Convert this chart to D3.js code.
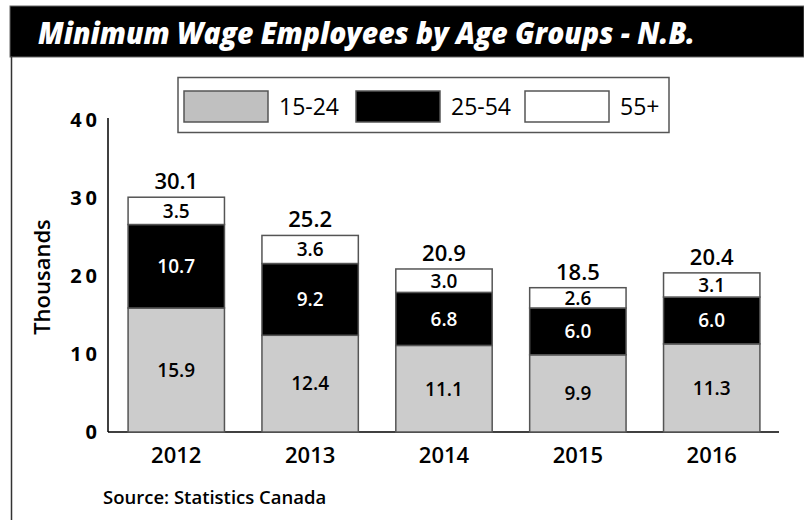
<!DOCTYPE html>
<html>
<head>
<meta charset="utf-8">
<script src="https://cdn.jsdelivr.net/npm/d3@7"></script>
<style>
  body { margin: 0; background: #fff; }
  text { font-family: "Open Sans", sans-serif; }
</style>
</head>
<body>
<div id="chart"></div>
<script>
const years = ["2012", "2013", "2014", "2015", "2016"]
const groups = ["15-24", "25-54", "55+"]
const age1524 = [15.9, 12.4, 11.1, 9.9, 11.3]
const age2554 = [10.7, 9.2, 6.8, 6.0, 6.0]
const age55 = [3.5, 3.6, 3.0, 2.6, 3.1]
const totals = [30.1, 25.2, 20.9, 18.5, 20.4]
const yTicks = [0, 10, 20, 30, 40]

const W = 804, H = 520
const fills = ["#cccccc", "#000000", "#ffffff"]
const labelFills = ["#000", "#fff", "#000"]

const svg = d3.select("#chart").append("svg")
  .attr("width", W).attr("height", H)

// title bar + frame line
svg.append("rect")
  .attr("x", 10).attr("y", 6).attr("width", W - 10).attr("height", 51)
  .attr("fill", "#000").attr("stroke", "#666").attr("stroke-width", 1)
svg.append("line")
  .attr("x1", 11.5).attr("x2", 11.5).attr("y1", 57).attr("y2", H)
  .attr("stroke", "#333").attr("stroke-width", 1.5)
svg.append("text")
  .attr("x", 38).attr("y", 44)
  .attr("fill", "#fff")
  .attr("font-size", 30).attr("font-weight", 800).attr("font-style", "italic")
  .attr("textLength", 657).attr("lengthAdjust", "spacingAndGlyphs")
  .text("Minimum Wage Employees by Age Groups - N.B.")

// data table for stacking
const table = years.map((y, i) => ({ year: y, "15-24": age1524[i], "25-54": age2554[i], "55+": age55[i], total: totals[i] }))
const series = d3.stack().keys(groups)(table)

const x = d3.scaleBand().domain(years).range([108, 780]).paddingInner(0.28).paddingOuter(0.15)
const y = d3.scaleLinear().domain([0, 40]).range([432, 120])

// axes
const yAxis = svg.append("g")
  .attr("transform", "translate(108,0)")
  .call(d3.axisLeft(y).tickValues(yTicks).tickSize(0).tickPadding(7))
yAxis.select(".domain").attr("stroke", "#000").attr("stroke-width", 1.5)
  .attr("d", `M0,${y(0)}V118`)
yAxis.selectAll("text")
  .attr("font-family", "DejaVu Sans").attr("font-weight", 700)
  .attr("font-size", 20).attr("letter-spacing", 4).attr("fill", "#000")

const xAxis = svg.append("g")
  .attr("transform", `translate(0,${y(0)})`)
  .call(d3.axisBottom(x).tickSize(0).tickPadding(15))
xAxis.select(".domain").attr("stroke", "#000").attr("stroke-width", 1.5)
  .attr("d", "M108,0H779")
xAxis.selectAll("text")
  .attr("font-family", "Open Sans").attr("font-weight", 600)
  .attr("font-size", 22).attr("fill", "#000")

// bars
const layer = svg.append("g").selectAll("g")
  .data(series).join("g")
  .attr("fill", (d, i) => fills[i])

layer.selectAll("rect")
  .data(d => d).join("rect")
  .attr("x", d => x(d.data.year))
  .attr("y", d => y(d[1]))
  .attr("width", x.bandwidth())
  .attr("height", d => y(d[0]) - y(d[1]))
  .attr("stroke", "#555").attr("stroke-width", 1.5)

// segment labels
series.forEach((s, i) => {
  svg.append("g").selectAll("text")
    .data(s).join("text")
    .attr("x", d => x(d.data.year) + x.bandwidth() / 2)
    .attr("y", d => (y(d[0]) + y(d[1])) / 2)
    .attr("dy", "0.36em")
    .attr("text-anchor", "middle")
    .attr("font-size", 19).attr("font-weight", 600)
    .attr("fill", labelFills[i])
    .text(d => d.data[s.key].toFixed(1))
})

// totals
svg.append("g").selectAll("text")
  .data(table).join("text")
  .attr("x", d => x(d.year) + x.bandwidth() / 2)
  .attr("y", d => y(d.total) - 8)
  .attr("text-anchor", "middle")
  .attr("font-size", 22).attr("font-weight", 600)
  .text(d => d.total.toFixed(1))

// y title
svg.append("text")
  .attr("transform", "translate(50,277) rotate(-90)")
  .attr("text-anchor", "middle")
  .attr("font-size", 22).attr("font-weight", 600)
  .text("Thousands")

// legend
svg.append("rect")
  .attr("x", 178).attr("y", 77.5).attr("width", 491).attr("height", 55)
  .attr("fill", "#fff").attr("stroke", "#555").attr("stroke-width", 1.5)
const legX = [184, 356, 525]
const legFills = ["#c0c0c0", "#000", "#fff"]
const leg = svg.append("g").selectAll("g")
  .data(groups).join("g")
  .attr("transform", (d, i) => `translate(${legX[i]},91)`)
leg.append("rect")
  .attr("width", 84).attr("height", 31)
  .attr("fill", (d, i) => legFills[i])
  .attr("stroke", "#555").attr("stroke-width", 1.5)
leg.append("text")
  .attr("x", 95).attr("y", 15.5).attr("dy", "0.36em")
  .attr("font-size", 23).attr("font-weight", 500)
  .text(d => d)

// source
svg.append("text")
  .attr("x", 103).attr("y", 504)
  .attr("font-size", 18.5).attr("font-weight", 600)
  .text("Source: Statistics Canada")
</script>
</body>
</html>
